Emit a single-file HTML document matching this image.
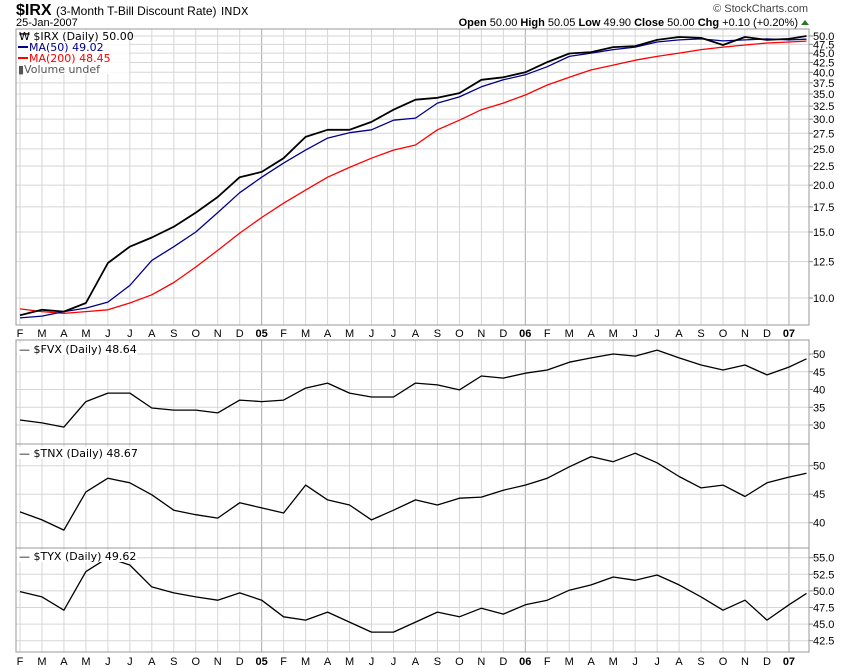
<!DOCTYPE html>
<html><head><meta charset="utf-8"><style>
body{margin:0;background:#fff;}
svg{display:block;font-family:"Liberation Sans",sans-serif;}
.lg{font-family:"DejaVu Sans",sans-serif;font-size:11px;}
.ax{font-size:11px;fill:#000;}
</style></head><body>
<svg id="chart" width="850" height="668" viewBox="0 0 850 668" xmlns="http://www.w3.org/2000/svg">
<g>
<text x="16" y="15" font-size="16" font-weight="bold">$IRX <tspan font-size="12" font-weight="normal">(3-Month T-Bill Discount Rate)</tspan> <tspan font-size="11" font-weight="normal" font-family="DejaVu Sans">INDX</tspan></text>
<text x="16" y="26" font-size="11">25-Jan-2007</text>
<text x="808" y="12" font-size="11" text-anchor="end" fill="#444">© StockCharts.com</text>
<text x="798" y="26" font-size="11" text-anchor="end"><tspan font-weight="bold">Open</tspan> 50.00 <tspan font-weight="bold">High</tspan> 50.05 <tspan font-weight="bold">Low</tspan> 49.90 <tspan font-weight="bold">Close</tspan> 50.00 <tspan font-weight="bold">Chg</tspan> +0.10 (+0.20%)</text>
<polygon points="801,25 809,25 805,20" fill="#2a7a2a"/>
</g>
<g id="grids"></g>
<g id="series"></g>
<g id="labels"></g>
<g>
<rect x="17" y="30" width="112" height="44" fill="#fff" opacity="0.85"/>
<text class="lg" x="19" y="40">₩ $IRX (Daily) 50.00</text>
<line x1="18" y1="47" x2="28" y2="47" stroke="#00008b" stroke-width="2"/>
<text class="lg" x="29" y="51" fill="#00008b" font-size="11">MA(50) 49.02</text>
<line x1="18" y1="58" x2="28" y2="58" stroke="#f00" stroke-width="2"/>
<text class="lg" x="29" y="62" fill="#f00">MA(200) 48.45</text>
<text class="lg" x="18" y="73" fill="#555">▮Volume undef</text>
<rect x="17" y="343" width="120" height="12" fill="#fff"/>
<text class="lg" x="19" y="353">— $FVX (Daily) 48.64</text>
<rect x="17" y="447" width="120" height="12" fill="#fff"/>
<text class="lg" x="19" y="457">— $TNX (Daily) 48.67</text>
<rect x="17" y="550" width="120" height="12" fill="#fff"/>
<text class="lg" x="19" y="560">— $TYX (Daily) 49.62</text>
</g>
</svg>
<script>
const monthLabels=["F","M","A","M","J","J","A","S","O","N","D","05","F","M","A","M","J","J","A","S","O","N","D","06","F","M","A","M","J","J","A","S","O","N","D","07"];
const monthIdx=[0,1,2,3,4,5,6,7,8,9,10,11,12,13,14,15,16,17,18,19,20,21,22,23,24,25,26,27,28,29,30,31,32,33,34,35,35.8];
const irx=[9.0,9.3,9.2,9.7,12.4,13.7,14.5,15.5,16.9,18.6,21.0,21.7,23.6,26.9,28.1,28.1,29.5,31.8,33.8,34.2,35.2,38.2,38.8,40.0,42.6,44.9,45.3,46.7,47.0,48.8,49.7,49.4,47.3,49.7,48.8,49.1,50.0];
const ma50=[8.85,8.95,9.2,9.4,9.75,10.8,12.6,13.7,15.0,16.9,19.1,21.0,22.9,24.8,26.7,27.6,28.1,29.8,30.2,33.1,34.4,36.6,38.2,39.4,41.4,44.1,45.0,46.0,46.7,48.2,48.8,49.1,48.5,48.8,49.1,48.8,49.02];
const ma200=[9.35,9.2,9.1,9.2,9.3,9.7,10.2,11.0,12.1,13.4,14.9,16.4,17.9,19.4,21.0,22.3,23.6,24.8,25.6,28.1,29.8,31.8,33.1,34.8,37.0,38.8,40.6,41.8,43.1,44.1,45.0,46.0,46.7,47.3,47.9,48.2,48.45];
const fvx=[31.4,30.6,29.4,36.6,39.0,39.0,34.8,34.2,34.2,33.4,37.0,36.6,37.0,40.4,41.8,39.0,37.9,37.9,41.8,41.3,39.9,43.8,43.2,44.6,45.5,47.7,48.9,50.0,49.4,51.1,48.9,46.9,45.5,46.9,44.1,46.3,48.64];
const tnx=[41.9,40.5,38.7,45.4,47.8,47.0,44.9,42.2,41.4,40.8,43.5,42.6,41.7,46.6,44.0,43.1,40.5,42.2,44.0,43.1,44.3,44.5,45.7,46.6,47.8,49.8,51.6,50.7,52.2,50.5,48.1,46.1,46.6,44.6,47.0,48.0,48.67];
const tyx=[49.9,49.1,47.1,52.9,55.0,53.9,50.6,49.7,49.1,48.6,49.7,48.6,46.1,45.6,46.8,45.3,43.8,43.8,45.3,46.8,46.1,47.4,46.5,47.9,48.6,50.1,50.9,52.1,51.6,52.4,50.9,49.1,47.1,48.6,45.6,47.9,49.62];
const irxTicks=["50.0","47.5","45.0","42.5","40.0","37.5","35.0","32.5","30.0","27.5","25.0","22.5","20.0","17.5","15.0","12.5","10.0"];
const fvxTicks=["50","45","40","35","30"];
const tnxTicks=["50","45","40"];
const tyxTicks=["55.0","52.5","50.0","47.5","45.0","42.5"];

const NS="http://www.w3.org/2000/svg";
const L=16,R=809;
const xOf=m=>20+21.97*m;
const yIrx=v=>298-162.8*Math.log(v/10);
const yFvx=v=>354+(50-v)*3.55;
const yTnx=v=>465.7+(50-v)*5.7;
const yTyx=v=>557.7+(55-v)*6.64;
const panels=[{t:29,b:325,y:yIrx,ticks:irxTicks,name:'irx'},{t:340,b:444,y:yFvx,ticks:fvxTicks,name:'fvx'},{t:444,b:548,y:yTnx,ticks:tnxTicks,name:'tnx'},{t:548,b:652,y:yTyx,ticks:tyxTicks,name:'tyx'}];
function mk(tag,attrs,parent){const e=document.createElementNS(NS,tag);for(const k in attrs)e.setAttribute(k,attrs[k]);parent.appendChild(e);return e;}
const G=document.getElementById('grids'),S=document.getElementById('series'),LB=document.getElementById('labels');
panels.forEach(p=>{
  const g=mk('g',{},G);
  
  
  monthLabels.forEach((lab,i)=>{
    const x=xOf(i);
    const isY=/\d/.test(lab);
    const ln=mk('line',{x1:x,x2:x,y1:p.t,y2:p.b,stroke:isY?'#aaa':'#d6d6d6','stroke-width':1},g);
    
    
  });
  p.ticks.forEach(t=>{
    const y=p.y(parseFloat(t));
    const ln=mk('line',{x1:L,x2:R,y1:y,y2:y,stroke:'#d6d6d6','stroke-width':1},g);
    
    
    const tk=mk('line',{x1:R,x2:R+4,y1:y,y2:y,stroke:'#888'},g);
    
    
    const tx=mk('text',{x:R+4,y:y+4,class:'ax'},LB);
    tx.textContent=t;
    
    
  });
  const bd=mk('rect',{x:L,y:p.t,width:R-L,height:p.b-p.t,fill:'none',stroke:'#999','stroke-width':1},g);
  
  
});
[333,661].forEach(yy=>{
  monthLabels.forEach((lab,i)=>{
    const isY=/\d/.test(lab);
    const tx=mk('text',{x:xOf(i),y:yy+4,'text-anchor':'middle',class:'ax','font-weight':isY?'bold':'normal','font-size':isY?'12':'11'},LB);
    tx.textContent=lab;
    
    
  });
});
function line(vals,yf,color,w,name){
  const pts=vals.map((v,i)=>xOf(monthIdx[i]).toFixed(1)+','+yf(v).toFixed(1)).join(' ');
  const pl=mk('polyline',{points:pts,fill:'none',stroke:color,'stroke-width':w,'stroke-linejoin':'round'},S);
  
  
}
line(ma200,yIrx,'#f00',1.3,'ma200-line');
line(ma50,yIrx,'#00008b',1.3,'ma50-line');
line(irx,yIrx,'#000',1.8,'irx-price-line');
line(fvx,yFvx,'#000',1.3,'fvx-line');
line(tnx,yTnx,'#000',1.3,'tnx-line');
line(tyx,yTyx,'#000',1.3,'tyx-line');
</script>
</body></html>
